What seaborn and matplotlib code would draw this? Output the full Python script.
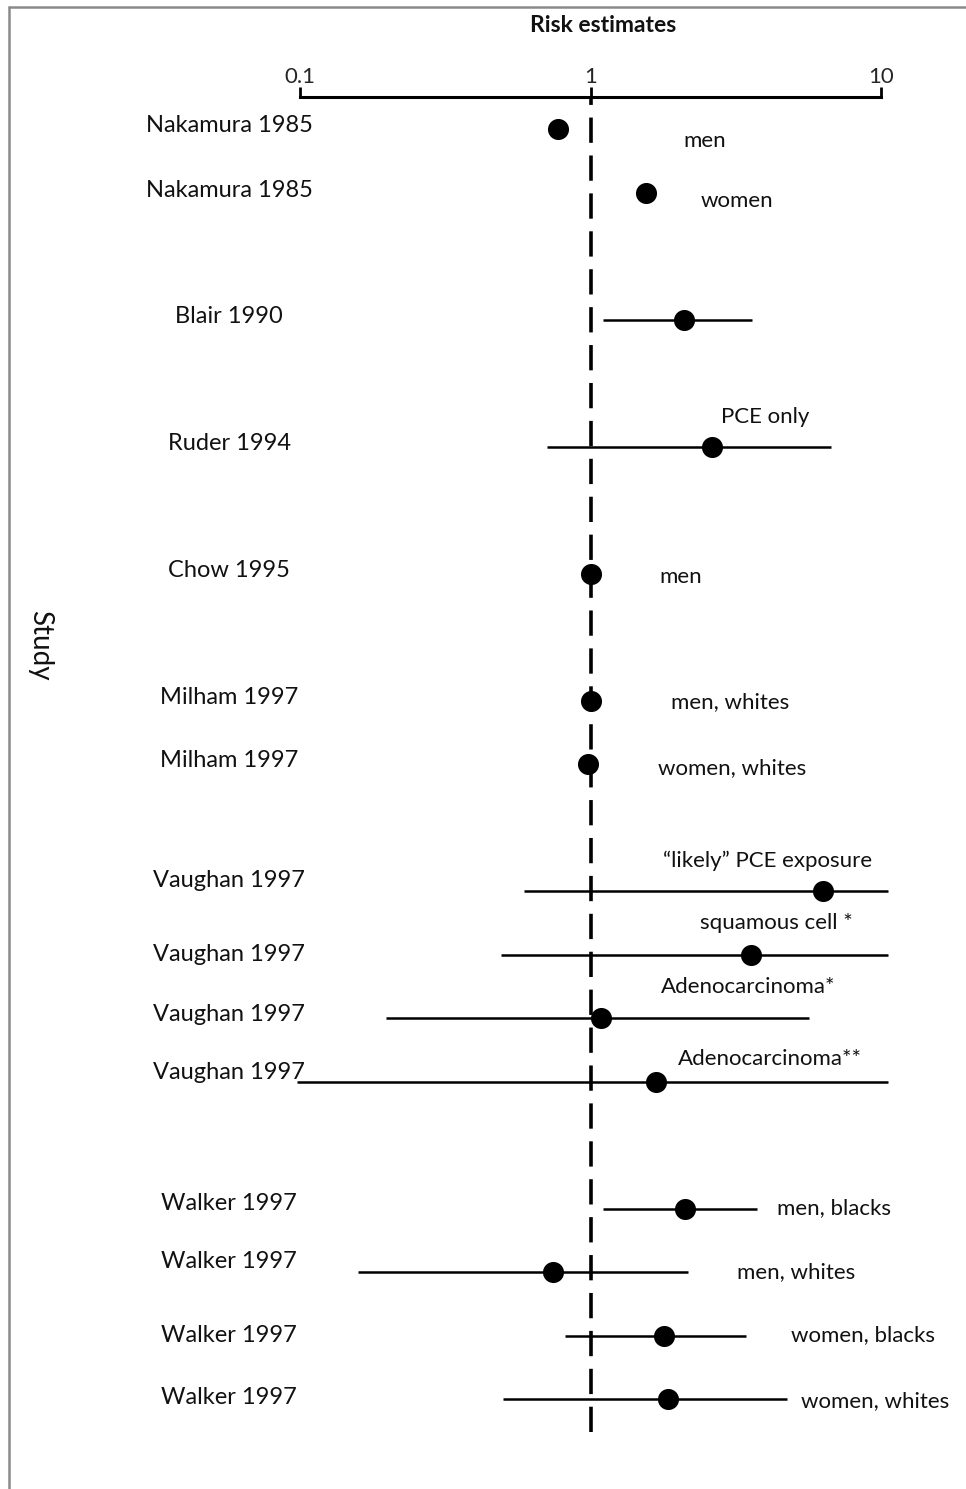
import matplotlib
matplotlib.use("Agg")
import matplotlib.pyplot as plt
import seaborn as sns
import pandas as pd
import numpy as np
from matplotlib.lines import Line2D
import matplotlib.transforms as mtransforms

# ---------------- data ----------------
studies = ["Nakamura 1985", "Nakamura 1985", "Blair 1990", "Ruder 1994", "Chow 1995",
           "Milham 1997", "Milham 1997", "Vaughan 1997", "Vaughan 1997", "Vaughan 1997",
           "Vaughan 1997", "Walker 1997", "Walker 1997", "Walker 1997", "Walker 1997"]
subgroups = ["men", "women", "", "PCE only", "men", "men, whites", "women, whites",
             "\u201clikely\u201d PCE exposure", "squamous cell *", "Adenocarcinoma*",
             "Adenocarcinoma**", "men, blacks", "men, whites", "women, blacks", "women, whites"]
estimates = [0.77, 1.55, 2.10, 2.62, 1.00, 1.00, 0.98, 6.3, 3.57, 1.09, 1.68, 2.11, 0.74, 1.79, 1.85]
ci_low = [np.nan, np.nan, 1.10, 0.71, np.nan, np.nan, np.nan, 0.59, 0.49, 0.198, 0.098, 1.10, 0.158, 0.82, 0.50]
ci_high = [np.nan, np.nan, 3.60, 6.73, np.nan, np.nan, np.nan, 10.6, 10.6, 5.65, 10.6, 3.74, 2.17, 3.43, 4.75]
tick_values = [0.1, 1, 10]
tick_labels = ["0.1", "1", "10"]

# ---------------- layout ----------------
# row positions (groups separated by a blank row)
group_of_row = [0, 0, 1, 2, 3, 4, 4, 5, 5, 5, 5, 6, 6, 6, 6]
rows = []
r = 0
for i, g in enumerate(group_of_row):
    if i > 0:
        r += 1 if g == group_of_row[i - 1] else 2
    rows.append(r)
# label placement: (x in data units, vertical offset in rows)
label_pos = [(2.48, 0.19), (3.19, 0.13), (1, 0), (3.99, -0.46), (2.05, 0.05), (3.02, 0.02),
             (3.07, 0.06), (4.08, -0.47), (4.35, -0.49), (3.49, -0.49), (4.15, -0.36),
             (6.89, 0.0), (5.10, 0.0), (8.67, 0.0), (9.53, 0.03)]
study_dy = [-0.05, -0.03, -0.05, -0.05, -0.05, -0.05, -0.06, -0.17, 0.0, -0.05, -0.14,
            -0.08, -0.17, 0.0, -0.03]

df = pd.DataFrame({"study": studies, "sub": subgroups, "est": estimates,
                   "lo": ci_low, "hi": ci_high, "row": rows})

sns.set_theme(style="white")
plt.rcParams["font.family"] = ["Lato", "DejaVu Sans"]

W, H = 966, 1489
fig = plt.figure(figsize=(W / 100, H / 100), dpi=100)
ax_left, ax_right, ax_top, ax_bottom = 300, 881, 97, 1432
ax = fig.add_axes([ax_left / W, 1 - ax_bottom / H, (ax_right - ax_left) / W, (ax_bottom - ax_top) / H])
ax.set_xscale("log")
ax.set_xlim(0.1, 10)
row_px = 63.5
first_px = 129
ax.set_ylim((ax_bottom - first_px) / row_px, -(first_px - ax_top) / row_px)

# reference line
ax.axvline(1, color="black", lw=2.6, ls=(0, (7, 3.5)), zorder=1)

# CIs
ci = df.dropna(subset=["lo"])
ax.hlines(ci["row"], ci["lo"], ci["hi"], color="black", lw=1.8, zorder=2, clip_on=False)

# points
sns.scatterplot(data=df, x="est", y="row", ax=ax, color="black", s=230,
                edgecolor="black", linewidth=0, zorder=3, legend=False, clip_on=False)

# subgroup labels
for (lx, dy), txt, rr in zip(label_pos, df["sub"], df["row"]):
    if txt:
        ax.text(lx, rr + dy, txt, ha="center", va="center", fontsize=16, color="#111111")

# study labels
trans = mtransforms.blended_transform_factory(ax.transAxes, ax.transData)
for s, rr, dy in zip(df["study"], df["row"], study_dy):
    ax.text((229 - ax_left) / (ax_right - ax_left), rr + dy, s, transform=trans,
            ha="center", va="center", fontsize=17, color="#111111")

# axis styling
for side in ["left", "right", "bottom"]:
    ax.spines[side].set_visible(False)
ax.spines["top"].set_linewidth(2.2)
ax.spines["top"].set_color("black")
ax.xaxis.set_ticks_position("top")
ax.xaxis.set_label_position("top")
ax.set_xticks(tick_values)
ax.set_xticklabels(tick_labels)
ax.xaxis.set_minor_locator(matplotlib.ticker.NullLocator())
ax.tick_params(axis="x", which="major", direction="out", length=7, width=2,
               color="black", labelsize=16, pad=0, top=True, bottom=False)
ax.set_yticks([])
ax.set_xlabel("")
ax.set_ylabel("")
ax.set_facecolor("white")
ax.patch.set_alpha(0)

fig.text(603 / W, 1 - 25 / H, "Risk estimates", ha="center", va="center",
         fontsize=16.5, fontweight="bold", color="#111111")
fig.text(40 / W, 1 - 645 / H, "Study", ha="center", va="center", rotation=270,
         fontsize=20, color="#111111")

# figure frame (top and left edges)
fig.add_artist(Line2D([9 / W, 1], [1 - 7 / H, 1 - 7 / H], transform=fig.transFigure,
                      color="#8a8a8a", lw=1.8))
fig.add_artist(Line2D([9 / W, 9 / W], [0, 1 - 7 / H], transform=fig.transFigure,
                      color="#8a8a8a", lw=1.8))

fig.savefig("out.png", dpi=100, facecolor="white")
